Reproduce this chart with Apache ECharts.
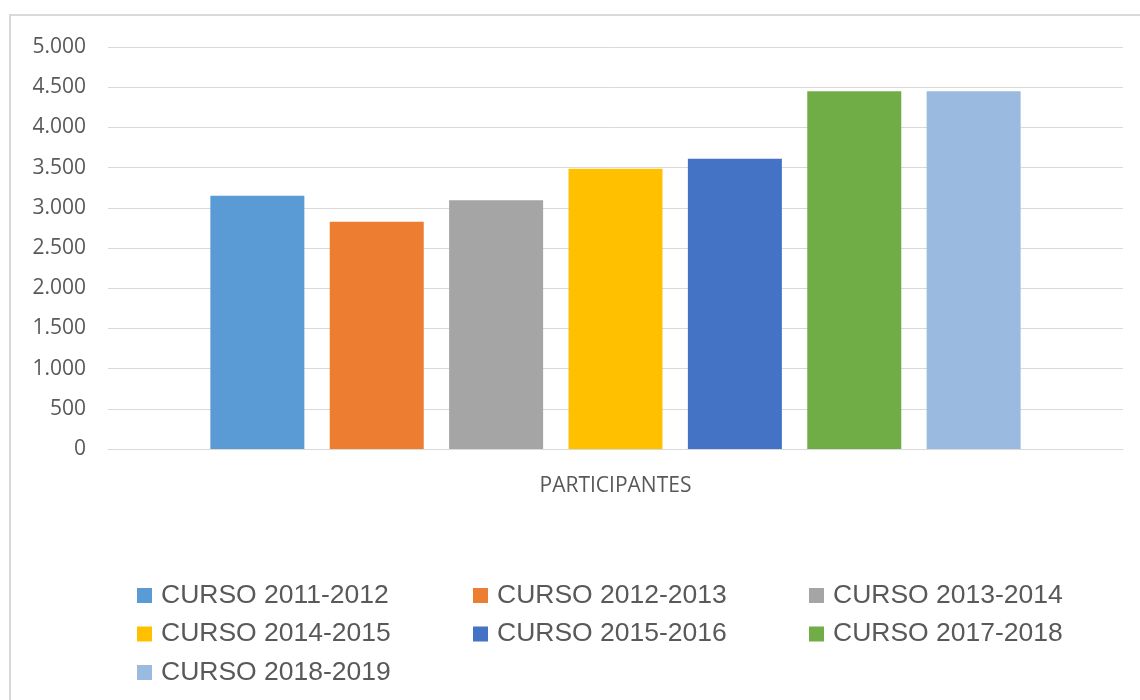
<!DOCTYPE html>
<html>
<head>
<meta charset="utf-8">
<script src="https://cdn.jsdelivr.net/npm/echarts@6/dist/echarts.min.js"></script>
<style>
html,body{margin:0;padding:0;background:#fff;}
#chart{width:1140px;height:700px;}
</style>
</head>
<body>
<div id="chart"></div>
<script>
const categories = ['PARTICIPANTES'];
const seriesNames = ['CURSO 2011-2012','CURSO 2012-2013','CURSO 2013-2014','CURSO 2014-2015','CURSO 2015-2016','CURSO 2017-2018','CURSO 2018-2019'];
const seriesValues = [3150, 2825, 3095, 3485, 3610, 4450, 4450];
const seriesColors = ['#5B9BD5','#ED7D31','#A5A5A5','#FFC000','#4472C4','#70AD47','#9BBADF'];
const legendColumns = [
  ['CURSO 2011-2012','CURSO 2014-2015','CURSO 2018-2019'],
  ['CURSO 2012-2013','CURSO 2015-2016'],
  ['CURSO 2013-2014','CURSO 2017-2018']
];
const legendLefts = [132, 468, 804];

const chart = echarts.init(document.getElementById('chart'));

const legendText = {
  color: '#595959',
  fontFamily: 'Liberation Sans',
  fontSize: 26.5,
  lineHeight: 26,
  padding: [0, 0, 0, 4]
};

const option = {
  backgroundColor: '#ffffff',
  animation: false,
  color: seriesColors,
  grid: { left: 108, right: 17, top: 47, bottom: 251, containLabel: false },
  graphic: [{
    type: 'rect',
    shape: { x: 10, y: 15, width: 1140, height: 700 },
    style: { fill: 'none', stroke: '#d9d9d9', lineWidth: 2 },
    silent: true
  }],
  legend: legendColumns.map((col, i) => ({
    data: col,
    orient: 'vertical',
    left: legendLefts[i],
    top: 577,
    itemWidth: 15,
    itemHeight: 15,
    itemGap: 11.5,
    icon: 'rect',
    textStyle: legendText,
    selectedMode: false
  })),
  xAxis: {
    type: 'category',
    data: categories,
    axisTick: { show: false },
    axisLine: { lineStyle: { color: '#d9d9d9', width: 1 } },
    axisLabel: { color: '#595959', fontFamily: 'Open Sans', fontSize: 21, margin: 27 }
  },
  yAxis: {
    type: 'value',
    min: 0,
    max: 5000,
    interval: 500,
    axisLine: { show: false },
    axisTick: { show: false },
    splitLine: { lineStyle: { color: '#d9d9d9', width: 1 } },
    axisLabel: {
      color: '#595959',
      fontFamily: 'Open Sans',
      fontSize: 21,
      margin: 22,
      formatter: v => String(v).replace(/\B(?=(\d{3})+(?!\d))/g, '.')
    }
  },
  series: seriesNames.map((name, i) => ({
    name: name,
    type: 'bar',
    data: [seriesValues[i]],
    barWidth: 94,
    barGap: '27%',
    itemStyle: { color: seriesColors[i] }
  }))
};

chart.setOption(option);
</script>
</body>
</html>
